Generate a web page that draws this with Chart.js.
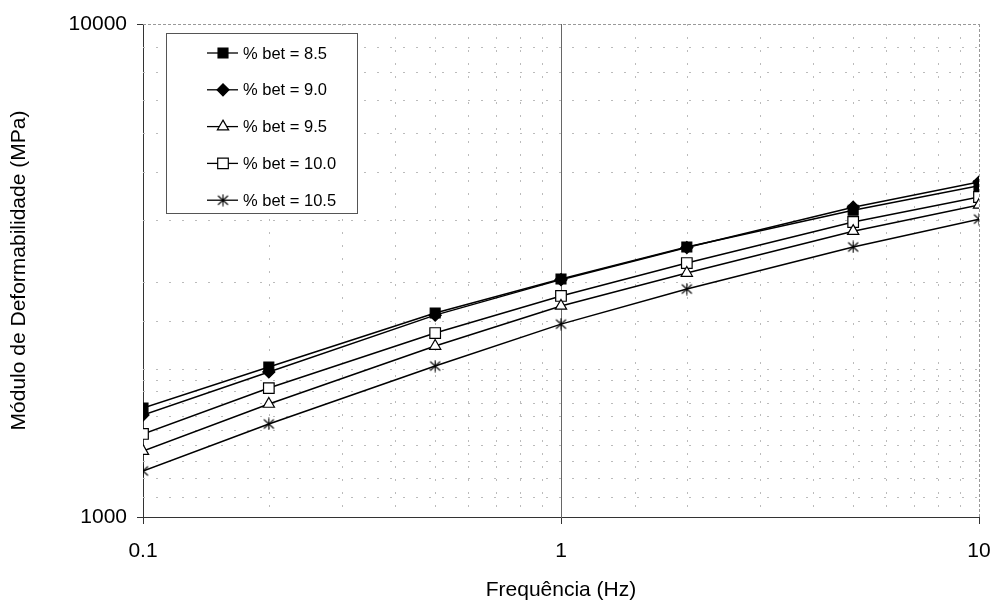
<!DOCTYPE html>
<html>
<head>
<meta charset="utf-8">
<script src="https://cdn.jsdelivr.net/npm/chart.js@4.4.1/dist/chart.umd.min.js"></script>
<style>
  html, body { margin: 0; padding: 0; background: #fff; }
  #wrap { width: 992px; height: 603px; }
</style>
</head>
<body>
<div id="wrap"><canvas id="c" width="992" height="603"></canvas></div>
<script>
// ---- data ----
const frequencies = [0.1, 0.2, 0.5, 1, 2, 5, 10];
const betLabels = ['8.5', '9.0', '9.5', '10.0', '10.5'];
const bet85  = [1664, 2015, 2593, 3040, 3530, 4190, 4700];
const bet90  = [1610, 1969, 2567, 3030, 3520, 4250, 4780];
const bet95  = [1360, 1695, 2222, 2680, 3125, 3800, 4295];
const bet100 = [1474, 1826, 2361, 2808, 3274, 3966, 4457];
const bet105 = [1240, 1544, 2024, 2462, 2900, 3530, 4020];
const xTickLabels = ['0.1', '1', '10'];
const yTickLabels = ['1000', '10000'];

const FONT = "'Liberation Sans', Arial, sans-serif";

// asterisk marker (X plus vertical bar)
function makeAsterisk() {
  const c = document.createElement('canvas');
  c.width = 13; c.height = 13;
  const g = c.getContext('2d');
  g.strokeStyle = '#000';
  g.lineWidth = 1.1;
  g.beginPath();
  g.moveTo(1.5, 2); g.lineTo(11.5, 11);
  g.moveTo(11.5, 2); g.lineTo(1.5, 11);
  g.moveTo(6.5, 0.5); g.lineTo(6.5, 12.5);
  g.stroke();
  return c;
}
const asterisk = makeAsterisk();

function pts(arr) { return frequencies.map((f, i) => ({ x: f, y: arr[i] })); }

const seriesStyles = [
  { pointStyle: 'rect',    radius: 7,   fill: '#000' },
  { pointStyle: 'rectRot', radius: 6,   fill: '#000' },
  { pointStyle: 'triangle',radius: 6.5, fill: '#fff' },
  { pointStyle: 'rect',    radius: 7.5, fill: '#fff' },
  { pointStyle: asterisk,  radius: 6,   fill: '#000' }
];
const seriesData = [bet85, bet90, bet95, bet100, bet105];

const datasets = seriesData.map((arr, i) => ({
  label: '% bet = ' + betLabels[i],
  data: pts(arr),
  borderColor: '#000',
  borderWidth: 1.5,
  backgroundColor: seriesStyles[i].fill,
  pointBackgroundColor: seriesStyles[i].fill,
  pointBorderColor: '#000',
  pointBorderWidth: 1.2,
  pointStyle: seriesStyles[i].pointStyle,
  pointRadius: seriesStyles[i].radius,
  tension: 0,
  fill: false
}));

function isDecade(v) {
  const l = Math.log10(v);
  return Math.abs(l - Math.round(l)) < 1e-6;
}

const gridPlugin = {
  id: 'excelGrid',
  beforeDatasetsDraw(chart) {
    const { ctx, chartArea: a, scales: { x, y } } = chart;
    ctx.save();
    ctx.lineWidth = 1;
    // vertical grid
    x.ticks.forEach(t => {
      const v = t.value;
      if (Math.abs(v - 0.1) < 1e-9 || Math.abs(v - 10) < 1e-9) return;
      const px = Math.round(x.getPixelForValue(v)) + 0.5;
      ctx.beginPath();
      if (isDecade(v)) { ctx.setLineDash([]); ctx.strokeStyle = '#666'; }
      else { ctx.setLineDash([2, 11]); ctx.strokeStyle = '#bbb'; }
      ctx.moveTo(px, a.top); ctx.lineTo(px, a.bottom);
      ctx.stroke();
    });
    // horizontal grid
    y.ticks.forEach(t => {
      const v = t.value;
      if (isDecade(v)) return;
      const py = Math.round(y.getPixelForValue(v)) + 0.5;
      ctx.beginPath();
      ctx.setLineDash([2, 11]); ctx.strokeStyle = '#bbb';
      ctx.moveTo(a.left, py); ctx.lineTo(a.right, py);
      ctx.stroke();
    });
    // top & right frame
    ctx.setLineDash([3, 2]);
    ctx.strokeStyle = '#999';
    ctx.beginPath();
    ctx.moveTo(a.left, Math.round(a.top) + 0.5); ctx.lineTo(a.right, Math.round(a.top) + 0.5);
    ctx.moveTo(Math.round(a.right) + 0.5, a.top); ctx.lineTo(Math.round(a.right) + 0.5, a.bottom);
    ctx.stroke();
    ctx.restore();
  }
};

const legendPlugin = {
  id: 'boxLegend',
  afterDatasetsDraw(chart) {
    const { ctx, chartArea: a } = chart;
    const bx = a.left + 23, by = a.top + 9, bw = 191, bh = 180;
    ctx.save();
    ctx.fillStyle = '#fff';
    ctx.fillRect(bx, by, bw, bh);
    ctx.strokeStyle = '#555';
    ctx.lineWidth = 1;
    ctx.setLineDash([]);
    ctx.strokeRect(bx + 0.5, by + 0.5, bw, bh);
    chart.data.datasets.forEach((ds, i) => {
      const cy = by + 20 + i * 36.8;
      ctx.strokeStyle = '#000';
      ctx.lineWidth = 1.3;
      ctx.beginPath();
      ctx.moveTo(bx + 41, cy); ctx.lineTo(bx + 72, cy);
      ctx.stroke();
      ctx.fillStyle = ds.pointBackgroundColor;
      ctx.strokeStyle = '#000';
      ctx.lineWidth = 1.2;
      Chart.helpers.drawPoint(ctx, {
        pointStyle: ds.pointStyle,
        radius: ds.pointRadius,
        rotation: 0,
        borderWidth: 1.2
      }, bx + 57, cy);
      ctx.fillStyle = '#000';
      ctx.font = '16.5px ' + FONT;
      ctx.textBaseline = 'middle';
      ctx.textAlign = 'left';
      ctx.fillText(ds.label, bx + 77, cy + 1);
    });
    ctx.restore();
  }
};

new Chart(document.getElementById('c'), {
  type: 'line',
  data: { datasets },
  plugins: [gridPlugin, legendPlugin],
  options: {
    responsive: false,
    animation: false,
    devicePixelRatio: 1,
    layout: { padding: { top: 24, right: 13, left: 0, bottom: 0 } },
    plugins: { legend: { display: false }, tooltip: { enabled: false } },
    scales: {
      x: {
        type: 'logarithmic',
        min: 0.1, max: 10,
        afterFit(s) { s.height = 86; s.paddingLeft = 0; s.paddingRight = 0; },
        grid: {
          drawOnChartArea: false,
          drawTicks: true,
          tickLength: 7,
          tickColor: ctx => (ctx.tick && isDecade(ctx.tick.value)) ? '#333' : 'rgba(0,0,0,0)'
        },
        border: { display: true, color: '#333', width: 1 },
        ticks: {
          autoSkip: false,
          maxRotation: 0,
          padding: 15,
          color: '#000',
          font: { family: FONT, size: 21 },
          callback(v) {
            if (!isDecade(v)) return '';
            const idx = Math.round(Math.log10(v)) + 1;
            return xTickLabels[idx];
          }
        },
        title: {
          display: true,
          text: 'Frequência (Hz)',
          color: '#000',
          font: { family: FONT, size: 21 },
          padding: { top: 0, bottom: 0 }
        }
      },
      y: {
        type: 'logarithmic',
        min: 1000, max: 10000,
        afterFit(s) { s.width = 143; s.paddingTop = 0; s.paddingBottom = 0; },
        grid: {
          drawOnChartArea: false,
          drawTicks: true,
          tickLength: 6,
          tickColor: ctx => (ctx.tick && isDecade(ctx.tick.value)) ? '#333' : 'rgba(0,0,0,0)'
        },
        border: { display: true, color: '#333', width: 1 },
        ticks: {
          autoSkip: false,
          padding: 10,
          color: '#000',
          font: { family: FONT, size: 21 },
          callback(v) {
            if (!isDecade(v)) return '';
            return yTickLabels[Math.round(Math.log10(v)) - 3];
          }
        },
        title: {
          display: true,
          text: 'Módulo de Deformabilidade (MPa)',
          color: '#000',
          font: { family: FONT, size: 21 },
          padding: { top: 7, bottom: 0 }
        }
      }
    }
  }
});
</script>
</body>
</html>
